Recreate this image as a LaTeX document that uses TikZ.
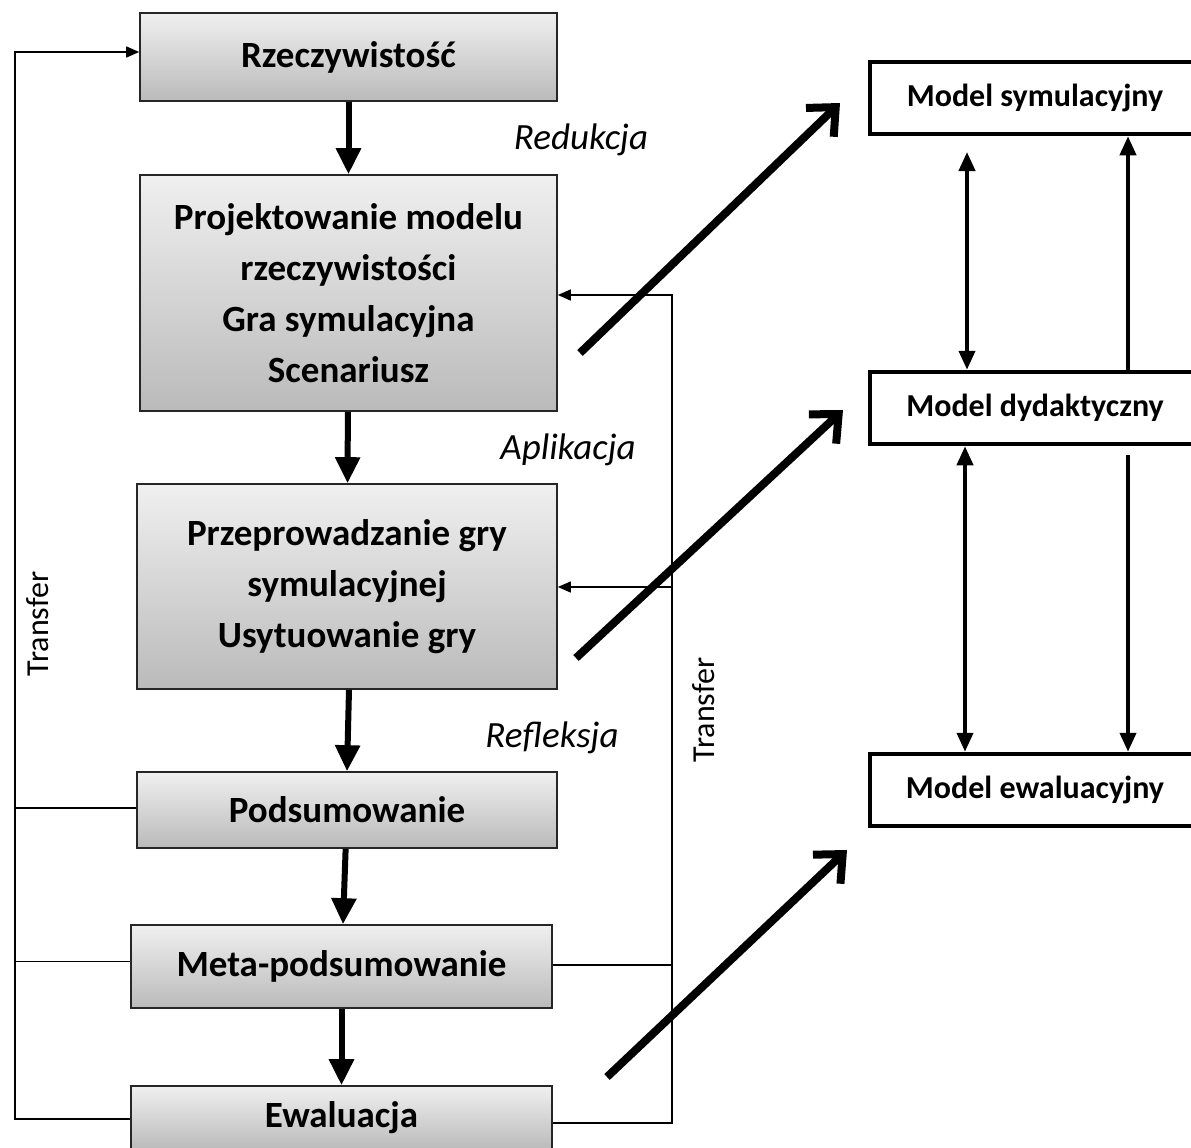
\documentclass[tikz,border=0pt]{standalone}
\usepackage{fontspec}
\setmainfont{Carlito}
\usetikzlibrary{arrows.meta}
\begin{document}
\begin{tikzpicture}[x=1pt,y=-1pt,
  stage/.style={draw=black!85, line width=1.6pt, top color=black!6, bottom color=black!27,
    inner sep=0pt, align=center, font=\bfseries\fontsize{37}{51}\selectfont},
  model/.style={draw=black, line width=4.5pt, fill=white, inner sep=0pt,
    minimum width=330pt, minimum height=72pt, font=\bfseries\fontsize{32}{36}\selectfont},
  flow/.style={line width=6pt, -{Triangle[length=26pt,width=24pt]}},
  feed/.style={line width=1.5pt},
  feedarrow/.style={feed, -{Triangle[length=13pt,width=11pt]}},
  link/.style={line width=4pt, -{Triangle[length=19pt,width=16pt]}},
  biglink/.style={line width=4pt, {Triangle[length=19pt,width=16pt]}-{Triangle[length=19pt,width=16pt]}},
  leap/.style={line width=8pt, -{Straight Barb[length=22pt,width=40pt]}},
  phase/.style={font=\itshape\fontsize{37}{42}\selectfont},
  side/.style={rotate=90, font=\fontsize{32}{38}\selectfont}]

\clip (0,0) rectangle (1191,1148);

% left column: stages of the simulation game
\node[stage, minimum width=417pt, minimum height=88pt]  (rz)    at (348.5,57)   {Rzeczywistość};
\node[stage, minimum width=417pt, minimum height=236pt] (proj)  at (348.5,293)  {Projektowanie modelu\\rzeczywistości\\Gra symulacyjna\\Scenariusz};
\node[stage, minimum width=420pt, minimum height=205pt] (przep) at (347,586.5)  {Przeprowadzanie gry\\symulacyjnej\\Usytuowanie gry};
\node[stage, minimum width=420pt, minimum height=76pt]  (pods)  at (347,810)    {Podsumowanie};
\node[stage, minimum width=421pt, minimum height=83pt]  (meta)  at (341.5,966.5){Meta-podsumowanie};
\node[stage, minimum width=421pt, minimum height=64pt]  (ewal)  at (341.5,1118) {Ewaluacja};

% right column: models
\node[model] (sym) at (1035,98)  {Model symulacyjny};
\node[model] (dyd) at (1035,408) {Model dydaktyczny};
\node[model] (ewa) at (1035,790) {Model ewaluacyjny};

% phase labels
\node[phase] (red) at (581,140) {Redukcja};
\node[phase] (apl) at (568,450) {Aplikacja};
\node[phase] (ref) at (552,738) {Refleksja};

% transfer labels
\node[side] (trl) at (38,624)  {Transfer};
\node[side] (trr) at (704,710) {Transfer};

% main flow
\draw[flow] (rz) -- (proj);
\draw[flow] (proj) -- (przep);
\draw[flow] ([xshift=2pt]przep.south) -- (pods.north);
\draw[flow] (pods) -- (meta);
\draw[flow] (meta) -- (ewal);

% left transfer loop
\coordinate (lx) at (15,0);
\draw[feedarrow] ([yshift=-1pt]ewal.west) -- ([yshift=-1pt]ewal.west -| lx) -- ([yshift=5pt]rz.west -| lx) -- ([yshift=5pt]rz.west);
\draw[feed] ([yshift=2pt]pods.west) -- ([yshift=2pt]pods.west -| lx);
\draw[feed] ([yshift=5pt]meta.west) -- ([yshift=5pt]meta.west -| lx);

% right transfer loop
\coordinate (rx) at (672,0);
\draw[feedarrow] ([yshift=-5pt]ewal.east) -- ([yshift=-5pt]ewal.east -| rx) -- (rx |- 0,295) -- (proj.east |- 0,295);
\draw[feedarrow] (rx |- 0,587) -- (przep.east |- 0,587);
\draw[feed] ([yshift=1.5pt]meta.east) -- ([yshift=1.5pt]meta.east -| rx);

% links between the models
\coordinate (s1) at (967,152);
\coordinate (s2) at (1128,455);
\draw[biglink] (s1) -- (s1 |- dyd.north);
\draw[link] (dyd.north -| 1128,0) -- (sym.south -| 1128,0);
\draw[biglink] (dyd.south -| 965,0) -- (ewa.north -| 965,0);
\draw[link] (s2) -- (s2 |- ewa.north);

% leaps from the stages to the models
\coordinate (d1a) at (580,353);  \coordinate (d1b) at (840,103);
\coordinate (d2a) at (576,658);  \coordinate (d2b) at (843,410);
\coordinate (d3a) at (607,1077); \coordinate (d3b) at (847,850);
\draw[leap] (d1a) -- (d1b);
\draw[leap] (d2a) -- (d2b);
\draw[leap] (d3a) -- (d3b);
\end{tikzpicture}
\end{document}
